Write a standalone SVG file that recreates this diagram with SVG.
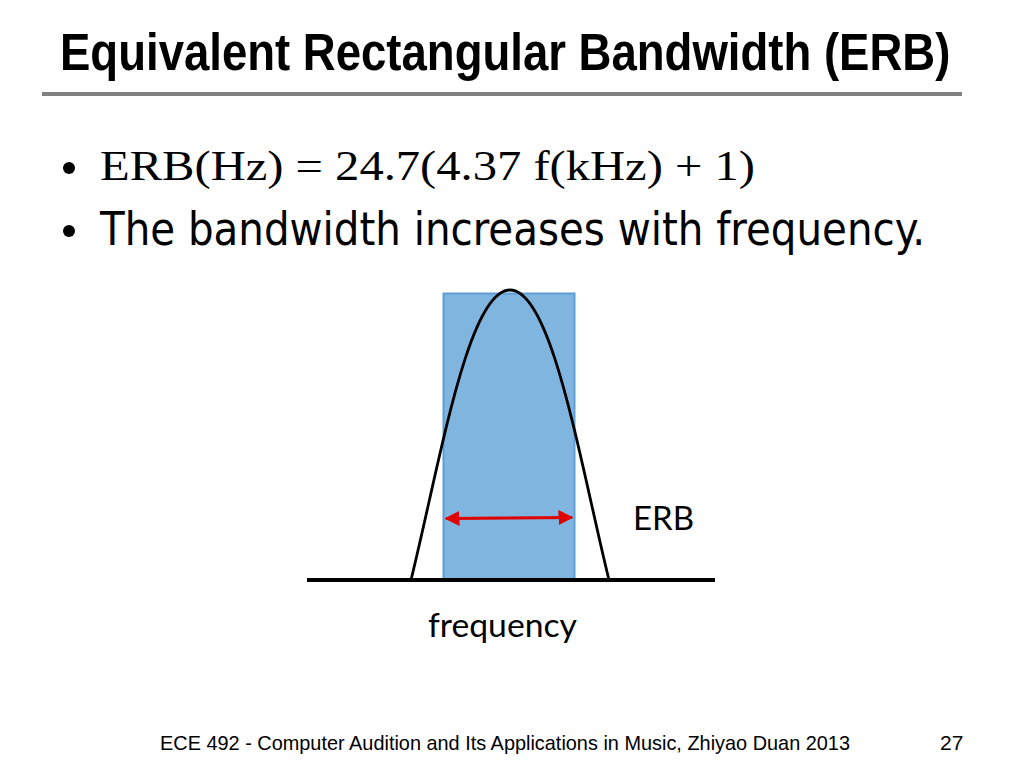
<svg xmlns="http://www.w3.org/2000/svg" width="1024" height="768" viewBox="0 0 1024 768">
<style>
.title{font-family:"Liberation Sans",Arial,sans-serif;font-weight:bold;font-size:51px;fill:#000}
.math{font-family:"Liberation Serif","DejaVu Serif",serif;font-size:43px;fill:#000}
.body{font-family:"DejaVu Sans Condensed","Liberation Sans",sans-serif;font-size:46px;fill:#000}
.lbl{font-family:Lato,"Open Sans",sans-serif;font-size:33px;fill:#000}
.foot{font-family:"Liberation Sans",sans-serif;font-size:21px;fill:#000}
</style>
<defs>
<marker id="ah" viewBox="0 0 10 10" refX="9" refY="5" markerWidth="5" markerHeight="5" orient="auto-start-reverse" markerUnits="strokeWidth">
<path d="M0,0 L10,5 L0,10 z" fill="#e00000"/>
</marker>
</defs>
<rect width="1024" height="768" fill="#fff"/>
<g id="title">
<text class="title" transform="translate(60,70) scale(0.893,1)" x="0" y="0">Equivalent Rectangular Bandwidth (ERB)</text>
<rect x="42" y="92" width="920" height="4" fill="#808080"/>
</g>
<g id="bullets">
<circle cx="69" cy="168" r="6" fill="#000"/>
<text class="math" x="100" y="180" textLength="655" lengthAdjust="spacingAndGlyphs">ERB(Hz) = 24.7(4.37 f(kHz) + 1)</text>
<circle cx="69" cy="231" r="6" fill="#000"/>
<text class="body" x="100" y="245" textLength="825" lengthAdjust="spacingAndGlyphs">The bandwidth increases with frequency.</text>
</g>
<g id="erb-rect">
<rect x="443.5" y="293.5" width="131" height="286" fill="#7fb5df" stroke="#5c9fd6" stroke-width="2"/>
</g>
<g id="filter-curve">
<path d="M411,580 C440,462 468,290 510,290 C552,290 580,462 609,580" fill="none" stroke="#000" stroke-width="2.8"/>
</g>
<g id="axis">
<line x1="307" y1="580" x2="715" y2="580" stroke="#000" stroke-width="4"/>
</g>
<g id="connectors">
<line x1="446" y1="518.5" x2="572" y2="517.5" stroke="#e00000" stroke-width="3" marker-start="url(#ah)" marker-end="url(#ah)"/>
</g>
<g id="labels">
<text class="lbl" x="633" y="530">ERB</text>
<text class="lbl" x="428" y="637" textLength="149" lengthAdjust="spacingAndGlyphs">frequency</text>
</g>
<g id="footer">
<text class="foot" x="160" y="750" textLength="690" lengthAdjust="spacingAndGlyphs">ECE 492 - Computer Audition and Its Applications in Music, Zhiyao Duan 2013</text>
<text class="foot" x="940" y="750">27</text>
</g>
</svg>
